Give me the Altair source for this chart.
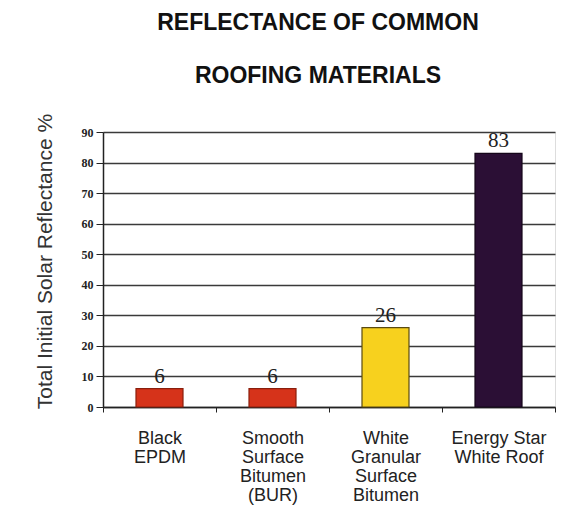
import altair as alt
import pandas as pd

categories = ["Black|EPDM", "Smooth|Surface|Bitumen|(BUR)", "White|Granular|Surface|Bitumen", "Energy Star|White Roof"]
values = [6, 6, 26, 83]
fills = ["#d6331a", "#d6331a", "#f7d11e", "#2b0f35"]
strokes = ["#8a1e0c", "#8a1e0c", "#5a4a10", "#15061a"]
y_ticks = [0, 10, 20, 30, 40, 50, 60, 70, 80, 90]

df = pd.DataFrame({"cat": categories, "val": values, "fill": fills, "stroke": strokes})

x = alt.X("cat:N", sort=categories, title=None,
          scale=alt.Scale(paddingInner=0, paddingOuter=0),
          axis=alt.Axis(labelExpr="split(datum.label, '|')", labelAngle=0,
                        labelFont="Liberation Sans", labelFontSize=18, labelColor="#222",
                        labelLineHeight=19, labelPadding=17, labelBaseline="top",
                        tickBand="extent", tickSize=5, tickColor="#222", tickWidth=1,
                        domainColor="#222", domainWidth=1.5, grid=False))
y = alt.Y("val:Q", title="Total Initial Solar Reflectance %",
          scale=alt.Scale(domain=[0, 90], nice=False),
          axis=alt.Axis(values=y_ticks, labelOverlap=False,
                        labelFont="Liberation Serif", labelFontWeight="bold",
                        labelFontSize=12, labelColor="#222", labelPadding=3,
                        tickSize=7, tickColor="#222", domainColor="#222", domainWidth=1.5,
                        gridColor="#3a3a3a", gridWidth=1.4,
                        titleFont="Liberation Sans", titleFontSize=21, titleFontWeight="normal",
                        titleColor="#333", titleAngle=-90, titleX=-58, titleY=129,
                        titleAlign="center", titleBaseline="middle"))

bars = alt.Chart(df).mark_bar(size=47, strokeWidth=1.2).encode(
    x=x, y=y,
    fill=alt.Fill("fill:N", scale=None),
    stroke=alt.Stroke("stroke:N", scale=None),
)
labels = alt.Chart(df).mark_text(baseline="bottom", dy=-2, font="Liberation Serif",
                                 fontSize=21, color="#222").encode(
    x=x, y=y, text="val:Q")

chart = (bars + labels).properties(
    width=452, height=275,
    autosize=alt.AutoSizeParams(type="none"),
    padding={"left": 95, "top": 124, "right": 19, "bottom": 109},
    title=alt.Title(["REFLECTANCE OF COMMON", "ROOFING MATERIALS"], font="Liberation Sans",
                    fontSize=23, fontWeight="bold", color="#111", lineHeight=53,
                    anchor="middle", dx=-11, offset=25),
).configure_view(stroke="#666", strokeWidth=1.2).configure(background="white")

chart.save("out.html", embed_options={"renderer": "svg", "actions": False})
